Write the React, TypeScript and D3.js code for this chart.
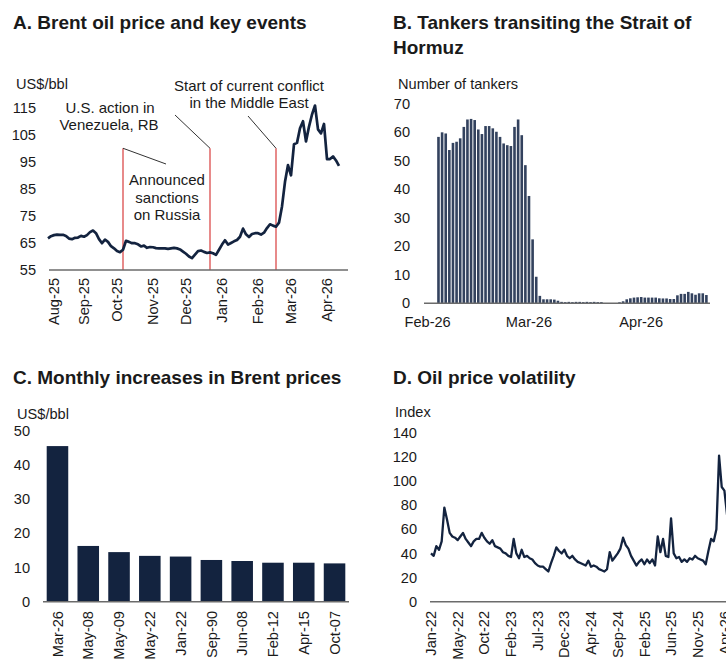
import React from 'react';
import { scaleLinear, scaleTime, scaleBand, line } from 'd3';

const FONT = '"Liberation Sans", Arial, sans-serif';
const NAVY = '#13233f';
const AXIS = '#6b6b6b';
const TXT = '#1a1a1a';

// A. Brent price, one value per sample (~every 1.5 trading days)
const brentVals = [
  66.7, 67.5, 67.9, 68.1, 68.0, 68.0, 67.6, 66.6, 66.4, 66.9,
  67.0, 67.6, 67.3, 67.9, 69.0, 69.6, 68.6, 66.4, 64.9, 66.2,
  65.4, 63.8, 63.0, 62.0, 61.6, 62.5, 65.8, 65.4, 64.9, 64.9,
  64.5, 63.7, 64.0, 63.2, 63.5, 63.4, 63.1, 63.0, 63.0, 63.0,
  62.8, 63.0, 63.2, 63.0, 62.6, 61.8, 61.0, 60.0, 59.4, 60.7,
  62.0, 62.2, 61.7, 61.3, 61.5, 61.2, 60.6, 62.5, 64.4, 66.0,
  64.4, 65.0, 65.6, 66.1, 67.3, 70.3, 68.2, 67.2, 68.3, 68.6,
  68.6, 68.1, 68.8, 70.5, 71.9, 71.4, 71.0, 72.5, 78.5, 87.6,
  93.8, 90.0, 101.5, 102.0, 107.4, 110.0, 102.5, 108.0, 112.5, 115.8,
  107.0, 105.5, 109.0, 96.0, 96.0, 97.0, 95.5, 93.5,
];
const brentTickIdx = [2, 12, 23, 35, 46, 58, 70, 81, 93];
const brentTickLabels = ['Aug-25', 'Sep-25', 'Oct-25', 'Nov-25', 'Dec-25', 'Jan-26', 'Feb-26', 'Mar-26', 'Apr-26'];
const brentTicksY = [55, 65, 75, 85, 95, 105, 115];
const eventIdx = [25, 54, 76];

// B. Tankers, daily from 4 Feb 2026
const tankerVals = [
  58.3, 59.9, 59.5, 53.7, 56.2, 56.6, 57.8, 61.8, 64.4, 64.6,
  64.2, 60.9, 59.3, 62.1, 62.1, 61.3, 60.1, 58.3, 56.0, 55.4,
  55.1, 61.8, 64.4, 58.9, 48.4, 37.6, 22.4, 9.3, 2.6, 1.4,
  1.4, 1.4, 1.3, 0.9, 0.5, 0.4, 0.5, 0.4, 0.5, 0.5,
  0.4, 0.5, 0.4, 0.5, 0.4, 0.4, 0, 0, 0, 0,
  0.35, 0.7, 1.4, 1.75, 2.0, 2.1, 2.2, 2.0, 2.0, 2.0,
  2.0, 1.75, 1.7, 1.7, 1.5, 1.5, 2.8, 3.3, 3.3, 4.0,
  3.5, 3.0, 3.5, 3.5, 2.9,
];
const tankerTicks = [new Date(2026, 1, 1), new Date(2026, 2, 1), new Date(2026, 3, 1)];
const tankerTickLabels = ['Feb-26', 'Mar-26', 'Apr-26'];
const tankerTicksY = [0, 10, 20, 30, 40, 50, 60, 70];

// C. Largest monthly increases
const monthCats = ['Mar-26', 'May-08', 'May-09', 'May-22', 'Jan-22', 'Sep-90', 'Jun-08', 'Feb-12', 'Apr-15', 'Oct-07'];
const monthVals = [45.5, 16.3, 14.5, 13.4, 13.2, 12.2, 11.9, 11.4, 11.4, 11.2];
const monthTicksY = [0, 10, 20, 30, 40, 50];

// D. Volatility index
const volVals = [
  40, 38, 46, 43, 50, 78, 68, 57, 54, 53,
  51, 54, 57, 52, 49, 46, 50, 52, 52, 57,
  53, 50, 48, 51, 46, 45, 44, 41, 40, 38,
  37, 52, 40, 36, 43, 37, 38, 36, 35, 32,
  30, 29, 29, 27, 25, 32, 38, 45, 42, 40,
  43, 38, 36, 38, 35, 33, 32, 31, 30, 34,
  29, 30, 29, 27, 26, 25, 27, 41, 34, 37,
  40, 44, 53, 47, 44, 38, 34, 30, 33, 35,
  31, 35, 32, 35, 30, 54, 41, 52, 38, 37,
  69, 40, 36, 37, 33, 35, 33, 36, 35, 38,
  36, 35, 34, 31, 42, 52, 50, 60, 121, 95,
  92, 72,
];
const volTickIdx = [0, 10, 20, 30, 40, 50, 60, 70, 80, 90, 100, 110];
const volTickLabels = ['Jan-22', 'May-22', 'Oct-22', 'Feb-23', 'Jul-23', 'Dec-23', 'Apr-24', 'Sep-24', 'Feb-25', 'Jun-25', 'Nov-25', 'Apr-26'];
const volTicksY = [0, 20, 40, 60, 80, 100, 120, 140];

const tickFont = 14.6;
const titleFont = 19;

function YLabels({ ticks, y, x }: { ticks: number[]; y: (v: number) => number; x: number }) {
  return (
    <g fontSize={tickFont} fill={TXT} textAnchor="end">
      {ticks.map((t) => (
        <text key={t} x={x} y={y(t)} dy="0.35em">{t}</text>
      ))}
    </g>
  );
}

function RotLabels({ items, y }: { items: { x: number; label: string }[]; y: number }) {
  return (
    <g fontSize={tickFont} fill={TXT} textAnchor="end">
      {items.map((d) => (
        <text key={d.label} transform={`translate(${d.x},${y}) rotate(-90)`} dy="0.35em">{d.label}</text>
      ))}
    </g>
  );
}

function PanelA() {
  const x = scaleLinear().domain([0, brentVals.length - 1]).range([48, 339]);
  const y = scaleLinear().domain([55, 115]).range([270, 107.7]);
  const path = line<number>().x((_, i) => x(i)).y((d) => y(d))(brentVals) || '';
  const top = y(100);
  const ex = eventIdx.map((i) => x(i));
  return (
    <g>
      <text x={13} y={28.5} fontSize={titleFont} fontWeight="bold" fill={TXT}>A. Brent oil price and key events</text>
      <text x={16} y={89} fontSize={tickFont} fill={TXT}>US$/bbl</text>
      <YLabels ticks={brentTicksY} y={y} x={36} />
      {ex.map((px, i) => (
        <line key={i} x1={px} x2={px} y1={y(55)} y2={top} stroke="#e26d6d" strokeWidth={1.6} />
      ))}
      <g stroke="#333" strokeWidth={1}>
        <line x1={ex[0]} y1={top} x2={166} y2={164} />
        <line x1={175} y1={115} x2={ex[1]} y2={top} />
        <line x1={248} y1={116} x2={ex[2]} y2={top} />
      </g>
      <g fontSize={15} fill={TXT} textAnchor="middle">
        <text x={110} y={113}>U.S. action in</text>
        <text x={109} y={130}>Venezuela, RB</text>
        <text x={249} y={91}>Start of current conflict</text>
        <text x={249} y={108}>in the Middle East</text>
        <text x={167} y={185}>Announced</text>
        <text x={167} y={202.5}>sanctions</text>
        <text x={167} y={220}>on Russia</text>
      </g>
      <line x1={49} x2={348} y1={270} y2={270} stroke={AXIS} strokeWidth={1.5} />
      <path d={path} fill="none" stroke={NAVY} strokeWidth={2.7} strokeLinejoin="round" />
      <RotLabels items={brentTickIdx.map((t, i) => ({ x: x(t), label: brentTickLabels[i] }))} y={278} />
    </g>
  );
}

function PanelB() {
  const x = scaleTime().domain([new Date(2026, 0, 31), new Date(2026, 3, 20)]).range([424, 710]);
  const y = scaleLinear().domain([0, 70]).range([303.3, 103.5]);
  const bw = (x(new Date(2026, 1, 5)) - x(new Date(2026, 1, 4))) * 0.72;
  return (
    <g>
      <text x={393} y={28.5} fontSize={titleFont} fontWeight="bold" fill={TXT}>B. Tankers transiting the Strait of</text>
      <text x={393} y={54} fontSize={titleFont} fontWeight="bold" fill={TXT}>Hormuz</text>
      <text x={398} y={89} fontSize={tickFont} fill={TXT}>Number of tankers</text>
      <YLabels ticks={tankerTicksY} y={y} x={410} />
      {tankerVals.map((v, i) => {
        const d = new Date(2026, 1, 4 + i);
        return <rect key={i} x={x(d) - bw / 2} width={bw} y={y(v)} height={y(0) - y(v)} fill="#33425e" />;
      })}
      <line x1={424} x2={710} y1={y(0)} y2={y(0)} stroke={AXIS} strokeWidth={1.5} />
      <g fontSize={tickFont} fill={TXT} textAnchor="middle">
        {tankerTicks.map((t, i) => (
          <text key={i} x={x(t)} y={327}>{tankerTickLabels[i]}</text>
        ))}
      </g>
    </g>
  );
}

function PanelC() {
  const x = scaleBand<string>().domain(monthCats).range([43, 349]).paddingInner(0.3).paddingOuter(0.12);
  const y = scaleLinear().domain([0, 50]).range([601.7, 430.7]);
  return (
    <g>
      <text x={13} y={384} fontSize={titleFont} fontWeight="bold" fill={TXT}>C. Monthly increases in Brent prices</text>
      <text x={17} y={419} fontSize={tickFont} fill={TXT}>US$/bbl</text>
      <YLabels ticks={monthTicksY} y={y} x={30} />
      {monthCats.map((c, i) => (
        <rect key={c} x={x(c)} width={x.bandwidth()} y={y(monthVals[i])} height={y(0) - y(monthVals[i])} fill={NAVY} />
      ))}
      <line x1={43} x2={349} y1={y(0)} y2={y(0)} stroke={AXIS} strokeWidth={1.5} />
      <RotLabels items={monthCats.map((c) => ({ x: (x(c) || 0) + x.bandwidth() / 2, label: c }))} y={611} />
    </g>
  );
}

function PanelD() {
  const x = scaleLinear().domain([0, 110]).range([431, 724.4]);
  const y = scaleLinear().domain([0, 140]).range([601.7, 432.7]);
  const path = line<number>().x((_, i) => x(i)).y((d) => y(d))(volVals) || '';
  return (
    <g>
      <text x={393} y={384} fontSize={titleFont} fontWeight="bold" fill={TXT}>D. Oil price volatility</text>
      <text x={395} y={417} fontSize={tickFont} fill={TXT}>Index</text>
      <YLabels ticks={volTicksY} y={y} x={417} />
      <line x1={430} x2={726} y1={y(0)} y2={y(0)} stroke={AXIS} strokeWidth={1.5} />
      <path d={path} fill="none" stroke={NAVY} strokeWidth={2.3} strokeLinejoin="round" />
      <RotLabels items={volTickIdx.map((t, i) => ({ x: x(t), label: volTickLabels[i] }))} y={611} />
    </g>
  );
}

export default function App() {
  return (
    <svg
      width={726}
      height={661}
      viewBox="0 0 726 661"
      style={{ position: 'absolute', left: 0, top: 0, background: '#fff' }}
      fontFamily={FONT}
    >
      <rect width={726} height={661} fill="#fff" />
      <PanelA />
      <PanelB />
      <PanelC />
      <PanelD />
    </svg>
  );
}
